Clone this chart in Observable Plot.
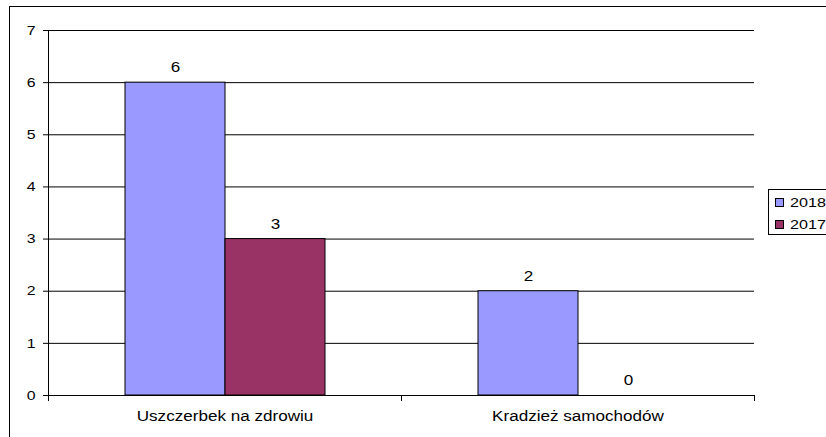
<!DOCTYPE html>
<html><head><meta charset="utf-8">
<script src="https://cdn.jsdelivr.net/npm/d3@7"></script>
<script src="https://cdn.jsdelivr.net/npm/@observablehq/plot@0.6"></script>
<style>
html,body{margin:0;padding:0;background:#fff;overflow:hidden;width:826px;height:437px;}
#wrap{position:relative;width:826px;height:437px;overflow:hidden;font-family:"Liberation Sans",Arial,sans-serif;}
#outer{position:absolute;left:9px;top:6px;width:1000px;height:1000px;border:1px solid #000;box-sizing:border-box;}
#chart{position:absolute;left:0;top:0;}
#legend{position:absolute;left:768px;top:189px;width:80px;height:46px;border:1px solid #000;box-sizing:border-box;background:#fff;}
.item{position:absolute;left:6px;height:14px;display:flex;align-items:center;font-size:13px;color:#000;white-space:nowrap;}
.sw{width:9px;height:9px;border:1px solid #000;box-sizing:border-box;margin-right:6px;}
.lab{display:inline-block;transform:scaleX(1.24);transform-origin:left center;}
</style></head>
<body>
<div id="wrap">
  <div id="outer"></div>
  <div id="chart"></div>
  <div id="legend"></div>
</div>
<script>
const categories = ["Uszczerbek na zdrowiu", "Kradzież samochodów"];
const years = ["2018", "2017"];
const values2018 = [6, 2];
const values2017 = [3, 0];
const yTicks = [0, 1, 2, 3, 4, 5, 6, 7];
const colors = ["#9999FF", "#993366"];

const seriesValues = {"2018": values2018, "2017": values2017};
const data = categories.flatMap((cat, i) => years.map(year => ({cat, year, value: seriesValues[year][i]})));

const chart = Plot.plot({
  width: 826,
  height: 437,
  marginLeft: 48,
  marginRight: 72,
  marginTop: 30,
  marginBottom: 42,
  style: {background: "transparent", fontFamily: "'Liberation Sans', Arial, sans-serif", fontSize: "14px", color: "#000"},
  fx: {domain: categories, padding: 0},
  x: {domain: years, paddingInner: 0, paddingOuter: 0.75, axis: null},
  y: {domain: [0, 7]},
  color: {domain: years, range: colors},
  marks: [
    Plot.ruleY(yTicks, {stroke: "#000", strokeWidth: 1}),
    Plot.barY(data, {fx: "cat", x: "year", y: "value", fill: "year", stroke: "#000", strokeWidth: 1}),
    Plot.text(data, {fx: "cat", x: "year", y: "value", text: d => String(d.value), dy: -15, fontSize: 14, fill: "#000"}),
    Plot.frame({anchor: "left", facetAnchor: "left", stroke: "#000"}),
    Plot.frame({anchor: "left", insetTop: 360, dy: 5, stroke: "#000"}),
    Plot.frame({anchor: "right", facetAnchor: "right", insetTop: 360, dy: 5, stroke: "#000"}),
    Plot.axisY({ticks: yTicks, tickFormat: d3.format("d"), tickSize: 5, tickPadding: 8, fontSize: 13, label: null}),
    Plot.axisFx({anchor: "bottom", tickSize: 0, tickPadding: 16, fontSize: 14, label: null})
  ]
});
document.getElementById("chart").appendChild(chart);

// horizontally stretched lettering as in the reference
d3.select(chart).selectAll("text").each(function() {
  const w = this.getComputedTextLength();
  if (w > 0) {
    this.setAttribute("textLength", w * 1.22);
    this.setAttribute("lengthAdjust", "spacingAndGlyphs");
  }
});

const legend = d3.select("#legend");
years.forEach((y, i) => {
  const item = legend.append("div").attr("class", "item").style("top", (5 + i * 22.3) + "px");
  item.append("div").attr("class", "sw").style("background", colors[i]);
  item.append("span").attr("class", "lab").text(y);
});
</script>
</body></html>
